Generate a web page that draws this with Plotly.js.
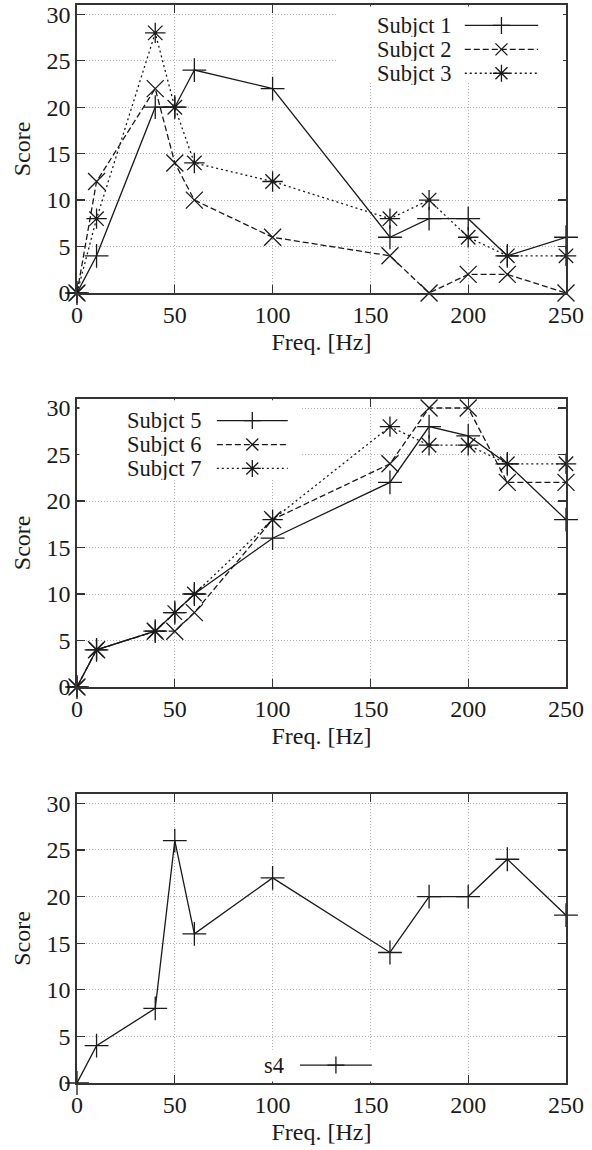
<!DOCTYPE html>
<html>
<head>
<meta charset="utf-8">
<script src="https://cdn.plot.ly/plotly-3.0.1.min.js"></script>
<style>html,body{margin:0;padding:0;background:#fff;}</style>
</head>
<body>
<div id="chart" style="width:592px;height:1150px;"></div>
<script>
// ---- data ----
const freq = [0, 10, 40, 50, 60, 100, 160, 180, 200, 220, 250];
const subject1 = [0, 4, 20, 20, 24, 22, 6, 8, 8, 4, 6];
const subject2 = [0, 12, 22, 14, 10, 6, 4, 0, 2, 2, 0];
const subject3 = [0, 8, 28, 20, 14, 12, 8, 10, 6, 4, 4];
const subject5 = [0, 4, 6, 8, 10, 16, 22, 28, 27, 24, 18];
const subject6 = [0, 4, 6, 6, 8, 18, 24, 30, 30, 22, 22];
const subject7 = [0, 4, 6, 8, 10, 18, 28, 26, 26, 24, 24];
const s4 = [0, 4, 8, 26, 16, 22, 14, 20, 20, 24, 18];
const xTicks = [0, 50, 100, 150, 200, 250];
const yTicks = [0, 5, 10, 15, 20, 25, 30];
const names1 = ['Subjct 1', 'Subjct 2', 'Subjct 3'];
const names2 = ['Subjct 5', 'Subjct 6', 'Subjct 7'];
const names3 = ['s4'];

// ---- styles ----
const INK = '#1a1a1a';
const FAMILY = '"Liberation Serif", "Times New Roman", "DejaVu Serif", serif';
function font(sz) { return {family: FAMILY, size: sz || 24, color: INK}; }
const styles = {
  plus: {symbol: 'cross-thin-open', dash: 'solid'},
  cross: {symbol: 'x-thin-open', dash: '6px,3px'},
  star: {symbol: 'asterisk-open', dash: '2px,3px'}
};
const styleOrder = ['plus', 'cross', 'star'];
const XR = [0, 250], YR = [0, 31];

function dataTrace(y, name, st, xa, ya) {
  const s = styles[st];
  return {
    x: freq, y: y, name: name, type: 'scatter', mode: 'lines+markers',
    xaxis: xa, yaxis: ya, showlegend: false, cliponaxis: false,
    line: {color: INK, width: 1.3, dash: s.dash},
    marker: {symbol: s.symbol, size: 17, color: INK, line: {color: INK, width: 1.3}}
  };
}

const traces = [
  dataTrace(subject1, names1[0], 'plus', 'x', 'y'),
  dataTrace(subject2, names1[1], 'cross', 'x', 'y'),
  dataTrace(subject3, names1[2], 'star', 'x', 'y'),
  dataTrace(subject5, names2[0], 'plus', 'x2', 'y2'),
  dataTrace(subject6, names2[1], 'cross', 'x2', 'y2'),
  dataTrace(subject7, names2[2], 'star', 'x2', 'y2'),
  dataTrace(s4, names3[0], 'plus', 'x3', 'y3')
];

// ---- gnuplot-style key: white box, text left, sample line + symbol right ----
const keys = [
  {ax: '', names: names1, textRight: 0.767, lineL: 0.793, lineR: 0.943, rows: [0.929, 0.846, 0.763],
   box: [0.534, 0.994, 0.735, 0.995]},
  {ax: '2', names: names2, textRight: 0.256, lineL: 0.286, lineR: 0.431, rows: [0.924, 0.841, 0.758],
   box: [0.005, 0.46, 0.72, 0.995]},
  {ax: '3', names: names3, textRight: 0.425, lineL: 0.456, lineR: 0.603, rows: [0.062],
   box: [0.25, 0.62, 0.005, 0.115]}
];
const symbolPaths = {
  plus: 'M-8.5,0H8.5M0,-8.5V8.5',
  cross: 'M-6,-6L6,6M-6,6L6,-6',
  star: 'M-8.5,0H8.5M0,-8.5V8.5M-6,-6L6,6M-6,6L6,-6'
};
const dashMap = {plus: 'solid', cross: '6px,3px', star: '2px,3px'};
const annotations = [];
const shapes = [];
keys.forEach(k => {
  const xr = 'x' + k.ax + ' domain', yr = 'y' + k.ax + ' domain';
  shapes.push({type: 'rect', layer: 'above', xref: xr, yref: yr,
    x0: k.box[0], x1: k.box[1], y0: k.box[2], y1: k.box[3], fillcolor: '#fff', line: {width: 0}});
  k.names.forEach((nm, i) => {
    const st = styleOrder[i];
    const yy = k.rows[i];
    shapes.push({type: 'line', layer: 'above', xref: xr, yref: yr, x0: k.lineL, x1: k.lineR, y0: yy, y1: yy,
      line: {color: INK, width: 1.3, dash: dashMap[st]}});
    shapes.push({type: 'path', layer: 'above', xref: xr, yref: yr, xsizemode: 'pixel', ysizemode: 'pixel',
      xanchor: (k.lineL + k.lineR) / 2, yanchor: yy, path: symbolPaths[st],
      line: {color: INK, width: 1.3}});
    annotations.push({xref: xr, yref: yr, x: k.textRight, y: yy, height: 23, borderpad: 0,
      text: nm, showarrow: false, xanchor: 'right', yanchor: 'middle', valign: 'middle', font: font(22.5)});
  });
});

function xAxis(anchor) {
  return {
    anchor: anchor, domain: [0, 1], range: XR.slice(), tickvals: xTicks,
    ticks: 'inside', ticklen: 8, tickwidth: 1.2, tickcolor: '#333',
    showline: true, linecolor: '#333', linewidth: 1.6, mirror: 'ticks',
    showgrid: true, gridcolor: '#b0b0b0', gridwidth: 1, griddash: '1px,2px',
    zeroline: false, tickfont: font(),
    title: {text: 'Freq. [Hz]', font: font(), standoff: 6}
  };
}
function yAxis(anchor, dom) {
  return {
    anchor: anchor, domain: dom, range: YR.slice(), tickvals: yTicks,
    ticks: 'inside', ticklen: 8, tickwidth: 1.2, tickcolor: '#333',
    showline: true, linecolor: '#333', linewidth: 1.6, mirror: 'ticks',
    showgrid: true, gridcolor: '#b0b0b0', gridwidth: 1, griddash: '1px,2px',
    zeroline: false, tickfont: font(),
    title: {text: 'Score', font: font(), standoff: 9}
  };
}

const layout = {
  width: 592, height: 1150,
  margin: {l: 77, r: 26, t: 0, b: 0},
  paper_bgcolor: '#fff', plot_bgcolor: '#fff',
  showlegend: false, font: font(),
  xaxis: xAxis('y'), yaxis: yAxis('x', [0.74522, 0.99565]),
  xaxis2: xAxis('y2'), yaxis2: yAxis('x2', [0.40261, 0.65330]),
  xaxis3: xAxis('y3'), yaxis3: yAxis('x3', [0.05826, 0.30957]),
  shapes: shapes, annotations: annotations
};

Plotly.newPlot('chart', traces, layout, {staticPlot: true, displayModeBar: false});
</script>
</body>
</html>
